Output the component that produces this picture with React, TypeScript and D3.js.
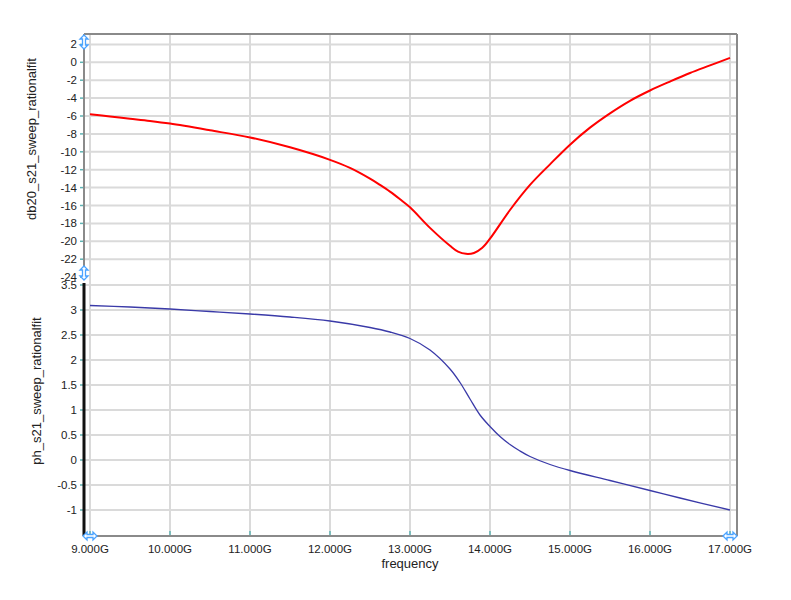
import React from "react";
import * as d3 from "d3";

const freqDb = [9.0, 9.25, 9.5, 9.75, 10.0, 10.5, 11.0, 11.5, 12.0, 12.25, 12.5, 12.625, 12.75, 12.875, 13.0, 13.25, 13.5, 13.6, 13.7, 13.8, 13.9, 14.0, 14.25, 14.5, 14.75, 15.0, 15.25, 15.5, 15.75, 16.0, 16.25, 16.5, 16.75, 17.0];
const db20 = [-5.8, -6.05, -6.3, -6.55, -6.85, -7.6, -8.4, -9.5, -10.9, -11.8, -13.0, -13.7, -14.45, -15.3, -16.2, -18.5, -20.5, -21.15, -21.4, -21.3, -20.75, -19.7, -16.5, -13.7, -11.4, -9.2, -7.3, -5.7, -4.3, -3.15, -2.15, -1.2, -0.35, 0.5];

const freqPh = [9.0, 9.5, 10.0, 10.5, 11.0, 11.5, 12.0, 12.5, 12.75, 13.0, 13.25, 13.5, 13.625, 13.75, 13.875, 14.0, 14.125, 14.25, 14.375, 14.5, 14.75, 15.0, 15.5, 16.0, 16.375, 17.0];
const phase = [3.09, 3.06, 3.02, 2.97, 2.92, 2.86, 2.78, 2.65, 2.56, 2.43, 2.2, 1.82, 1.55, 1.22, 0.9, 0.67, 0.47, 0.31, 0.18, 0.07, -0.09, -0.21, -0.41, -0.61, -0.76, -1.0];

const xTicks = [9, 10, 11, 12, 13, 14, 15, 16, 17];
const dbTicks = [2, 0, -2, -4, -6, -8, -10, -12, -14, -16, -18, -20, -22, -24];
const phTicks = [3.5, 3, 2.5, 2, 1.5, 1, 0.5, 0, -0.5, -1];

const L = 84, R = 737, T = 34, B = 536, MID = 276;
const FONT = "'Liberation Sans', Arial, sans-serif";

function VArrow({ x, y }: { x: number; y: number }) {
  const p = `M${x},${y - 7} L${x + 4},${y - 3} L${x + 1.5},${y - 3} L${x + 1.5},${y + 3} L${x + 4},${y + 3} L${x},${y + 7} L${x - 4},${y + 3} L${x - 1.5},${y + 3} L${x - 1.5},${y - 3} L${x - 4},${y - 3} Z`;
  return <path d={p} fill="#fff" stroke="#4aa3ff" strokeWidth={1.3} />;
}
function HArrow({ x, y }: { x: number; y: number }) {
  const p = `M${x - 7},${y} L${x - 3},${y - 4} L${x - 3},${y - 1.5} L${x + 3},${y - 1.5} L${x + 3},${y - 4} L${x + 7},${y} L${x + 3},${y + 4} L${x + 3},${y + 1.5} L${x - 3},${y + 1.5} L${x - 3},${y + 4} Z`;
  return <path d={p} fill="#fff" stroke="#4aa3ff" strokeWidth={1.3} />;
}

export default function App() {
  const x = d3.scaleLinear().domain([9, 17]).range([90, 730]);
  const yDb = d3.scaleLinear().domain([0, -24]).range([62.3, 277.1]);
  const yPh = d3.scaleLinear().domain([3.5, -1]).range([285, 510]);

  const lineDb = d3.line<number>().x((_, i) => x(freqDb[i])).y((d) => yDb(d)).curve(d3.curveCatmullRom.alpha(0.5));
  const linePh = d3.line<number>().x((_, i) => x(freqPh[i])).y((d) => yPh(d)).curve(d3.curveCatmullRom.alpha(0.5));

  const grid = "#dadada";
  const tick = "#5fb3b3";
  return (
    <svg width={791} height={600} style={{ position: "absolute", left: 0, top: 0, background: "#fff" }} fontFamily={FONT}>
      <rect x={0} y={0} width={791} height={600} fill="#fff" />
      {xTicks.map((t) => (
        <line key={"vg" + t} x1={x(t)} x2={x(t)} y1={T} y2={B} stroke={grid} strokeWidth={2} />
      ))}
      {dbTicks.filter((t) => yDb(t) < MID).map((t) => (
        <line key={"hd" + t} x1={L} x2={R} y1={yDb(t)} y2={yDb(t)} stroke={grid} strokeWidth={2} />
      ))}
      {phTicks.map((t) => (
        <line key={"hp" + t} x1={L} x2={R} y1={yPh(t)} y2={yPh(t)} stroke={grid} strokeWidth={2} />
      ))}
      {xTicks.map((t) => (
        <line key={"xt" + t} x1={x(t)} x2={x(t)} y1={B - 5} y2={B} stroke={tick} strokeWidth={1.5} />
      ))}
      {dbTicks.map((t) => (
        <line key={"yt" + t} x1={L - 4} x2={L} y1={yDb(t)} y2={yDb(t)} stroke={tick} strokeWidth={1.5} />
      ))}
      {phTicks.map((t) => (
        <line key={"yp" + t} x1={L - 4} x2={L} y1={yPh(t)} y2={yPh(t)} stroke={tick} strokeWidth={1.5} />
      ))}
      <line x1={L} x2={R} y1={T} y2={T} stroke="#8a8a8a" strokeWidth={2} />
      <line x1={R} x2={R} y1={T} y2={B} stroke="#8a8a8a" strokeWidth={2} />
      <line x1={L} x2={R} y1={B} y2={B} stroke="#8a8a8a" strokeWidth={2} />
      <line x1={L} x2={L} y1={T} y2={268} stroke="#8a8a8a" strokeWidth={2} />
      <line x1={L} x2={L} y1={283} y2={B} stroke="#111" strokeWidth={3} />
      <path d={lineDb(db20) || ""} fill="none" stroke="#ff0000" strokeWidth={2} />
      <path d={linePh(phase) || ""} fill="none" stroke="#3a3aa8" strokeWidth={1.3} />
      {dbTicks.map((t) => (
        <text key={"dl" + t} x={L - 7} y={yDb(t)} dy="0.35em" textAnchor="end" fontSize={11.5} fill="#222">{t}</text>
      ))}
      {phTicks.map((t) => (
        <text key={"pl" + t} x={L - 7} y={yPh(t)} dy="0.35em" textAnchor="end" fontSize={11.5} fill="#222">{t}</text>
      ))}
      {xTicks.map((t) => (
        <text key={"xl" + t} x={x(t)} y={549} dy="0.35em" textAnchor="middle" fontSize={11.5} fill="#222">{t.toFixed(3) + "G"}</text>
      ))}
      <VArrow x={L} y={42} />
      <VArrow x={L} y={273} />
      <HArrow x={90} y={B} />
      <HArrow x={730} y={B} />
      <text x={410} y={563} dy="0.35em" textAnchor="middle" fontSize={13} fill="#222">frequency</text>
      <text transform="translate(31,139) rotate(-90)" dy="0.35em" textAnchor="middle" fontSize={13} fill="#222">db20_s21_sweep_rationalfit</text>
      <text transform="translate(36,391) rotate(-90)" dy="0.35em" textAnchor="middle" fontSize={13} fill="#222">ph_s21_sweep_rationalfit</text>
    </svg>
  );
}
